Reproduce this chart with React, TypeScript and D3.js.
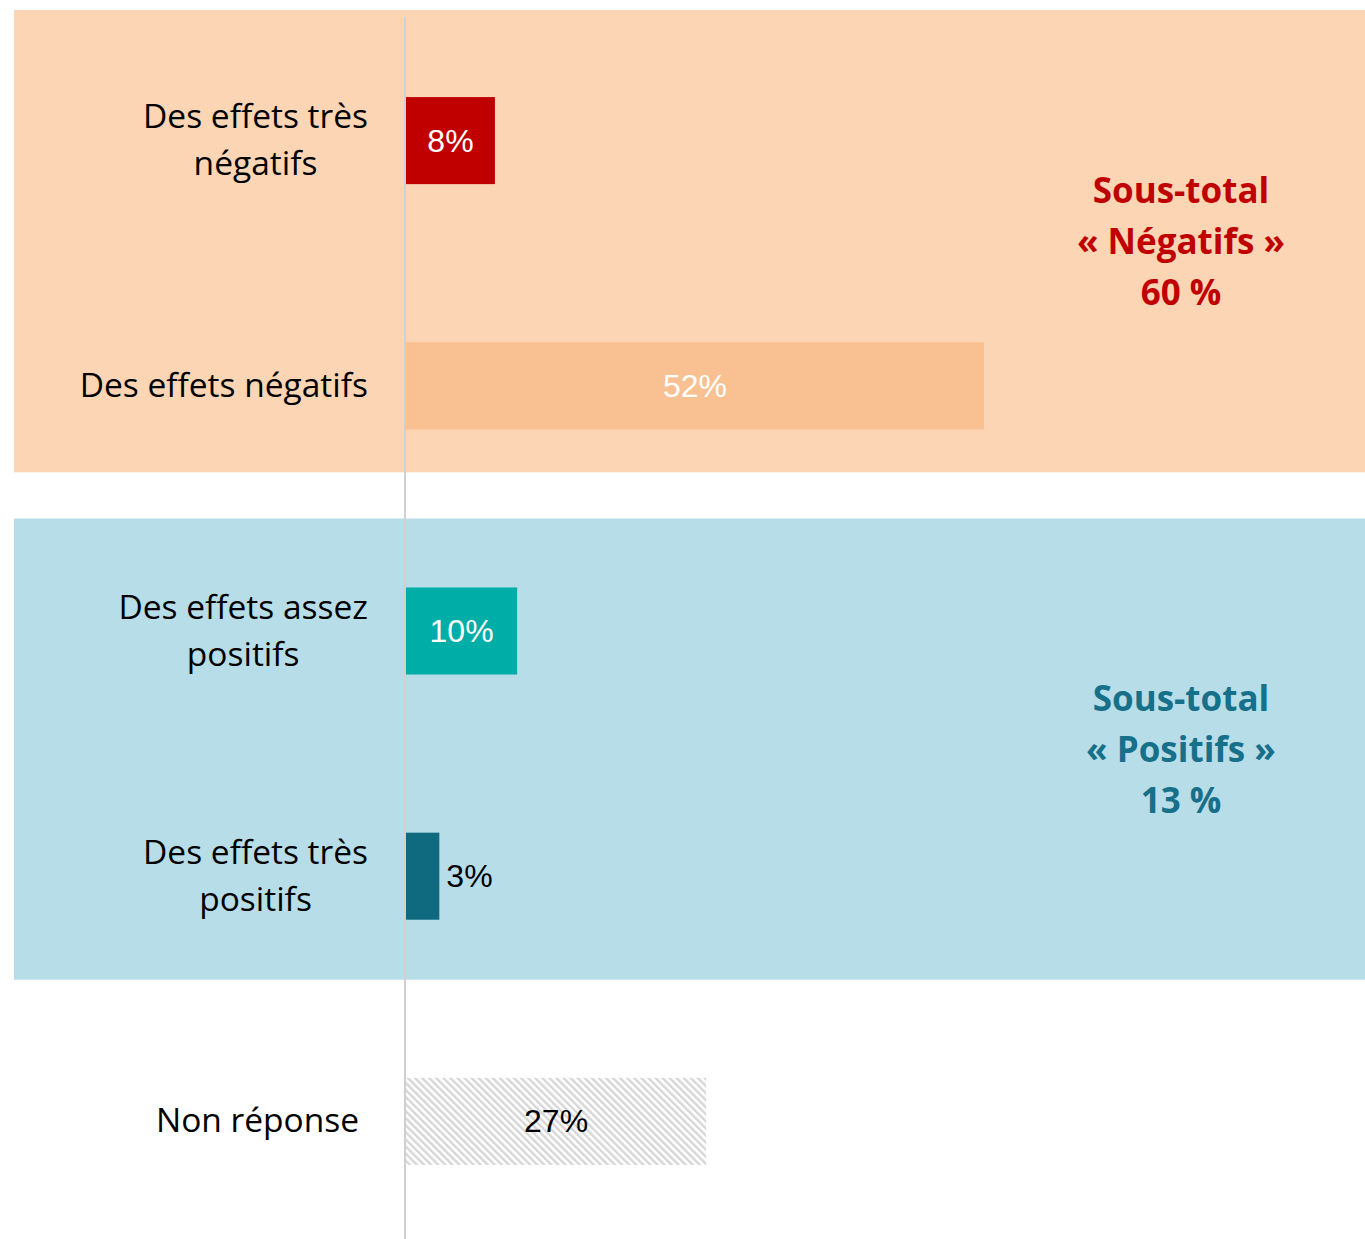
import { useEffect, useRef } from 'react'
import * as d3 from 'd3'

const categories = [
  ['Des effets très', 'négatifs'],
  ['Des effets négatifs'],
  ['Des effets assez', 'positifs'],
  ['Des effets très', 'positifs'],
  ['Non réponse'],
]
const values = [8, 52, 10, 3, 27]
const valueLabels = ['8%', '52%', '10%', '3%', '27%']
const barColors = ['#C00000', '#F9C192', '#00ADA7', '#0F6A80', 'url(#hatch)']
const labelColors = ['#ffffff', '#ffffff', '#ffffff', '#000000', '#000000']
const subtotals = [
  { lines: ['Sous-total', '« Négatifs »', '60 %'], color: '#C00000', fill: '#FBD5B4', from: 0, to: 1 },
  { lines: ['Sous-total', '« Positifs »', '13 %'], color: '#17708A', fill: '#B7DDE8', from: 2, to: 3 },
]

const W = 1365
const H = 1239
const labelFont = '"Open Sans", sans-serif'

function App() {
  const svgRef = useRef<SVGSVGElement>(null)

  useEffect(() => {
    const svg = d3.select(svgRef.current)
    svg.selectAll('*').remove()

    const x0 = 406
    const x = d3.scaleLinear().domain([0, 52]).range([x0, 984])
    const y = d3
      .scaleBand<number>()
      .domain(d3.range(categories.length))
      .range([18, 1244])
      .paddingInner(0.645)
      .paddingOuter(0.3225)
    const bw = y.bandwidth()

    const defs = svg.append('defs')
    const pat = defs
      .append('pattern')
      .attr('id', 'hatch')
      .attr('patternUnits', 'userSpaceOnUse')
      .attr('width', 5)
      .attr('height', 5)
      .attr('patternTransform', 'rotate(-45)')
    pat.append('rect').attr('width', 5).attr('height', 5).attr('fill', '#ffffff')
    pat.append('rect').attr('width', 2.4).attr('height', 5).attr('fill', '#D6D6D6')

    // group panels
    const panelTop = [87, 69]
    const panelBottom = [43, 60]
    subtotals.forEach((s, i) => {
      const top = (y(s.from) as number) - panelTop[i]
      const bottom = (y(s.to) as number) + bw + panelBottom[i]
      svg
        .append('rect')
        .attr('x', 14)
        .attr('y', top)
        .attr('width', W - 14)
        .attr('height', bottom - top)
        .attr('fill', s.fill)
      const cy = (top + bottom) / 2
      const t = svg
        .append('text')
        .attr('x', 1181)
        .attr('y', cy - 51 + 13)
        .attr('text-anchor', 'middle')
        .attr('fill', s.color)
        .style('font-family', labelFont)
        .style('font-weight', 700)
        .style('font-size', '35px')
      s.lines.forEach((l, j) => {
        t.append('tspan').attr('x', 1181).attr('dy', j === 0 ? 0 : 51).text(l)
      })
    })

    // axis line
    svg
      .append('line')
      .attr('x1', 405)
      .attr('x2', 405)
      .attr('y1', 17)
      .attr('y2', H)
      .attr('stroke', '#D0D0D0')
      .attr('stroke-width', 2)

    // bars
    values.forEach((v, i) => {
      svg
        .append('rect')
        .attr('x', x0)
        .attr('y', y(i) as number)
        .attr('width', x(v) - x0)
        .attr('height', bw)
        .attr('fill', barColors[i])
    })

    // value labels
    values.forEach((v, i) => {
      const cy = (y(i) as number) + bw / 2
      const outside = v < 5
      svg
        .append('text')
        .attr('x', outside ? x(v) + 7 : (x0 + x(v)) / 2)
        .attr('y', cy + 11)
        .attr('text-anchor', outside ? 'start' : 'middle')
        .attr('fill', labelColors[i])
        .style('font-family', 'Arial, "Liberation Sans", sans-serif')
        .style('font-size', '32px')
        .text(valueLabels[i])
    })

    // category labels
    categories.forEach((lines, i) => {
      const cy = (y(i) as number) + bw / 2
      const g = svg.append('g')
      const texts = lines.map((l, j) =>
        g
          .append('text')
          .attr('y', cy + 11 - ((lines.length - 1) * 47) / 2 + j * 47)
          .attr('text-anchor', 'middle')
          .attr('fill', '#000')
          .style('font-family', labelFont)
          .style('font-size', '33.5px')
          .text(l)
      )
      const widths = texts.map((t) => (t.node() as SVGTextElement).getComputedTextLength())
      const maxW = d3.max(widths) || 0
      const right = i === categories.length - 1 ? 359 : 368
      texts.forEach((t) => t.attr('x', right - maxW / 2))
    })
  }, [])

  return (
    <svg
      ref={svgRef}
      width={W}
      height={H}
      style={{ position: 'absolute', left: 0, top: 0, background: '#fff' }}
    />
  )
}

export default App
